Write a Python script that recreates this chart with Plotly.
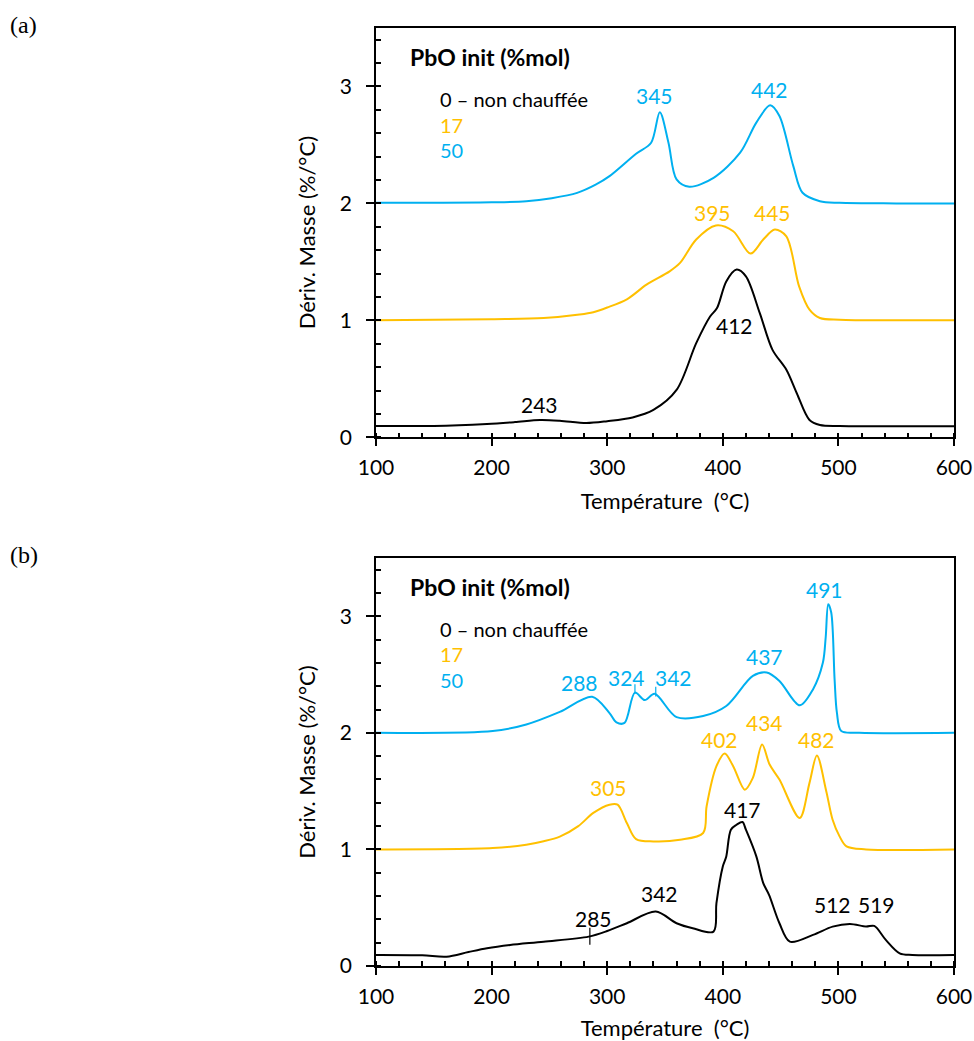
import plotly.graph_objects as go
import numpy as np

# ---------------- data ----------------
# Panel (a)
a0_T = [100, 150, 196, 220, 242, 259, 282, 300, 322, 340, 360, 377, 389, 395, 403, 412, 420, 432, 443, 455, 464, 475, 484, 501, 550, 600]
a0_v = [0.097, 0.097, 0.114, 0.13, 0.148, 0.142, 0.122, 0.138, 0.17, 0.234, 0.405, 0.805, 1.033, 1.105, 1.333, 1.434, 1.376, 1.062, 0.748, 0.577, 0.377, 0.148, 0.105, 0.097, 0.095, 0.095]

a17_T = [100, 200, 245, 276, 288, 300, 317, 334, 354, 363, 377, 394, 409, 424, 435, 445, 455, 466, 475, 484, 501, 550, 600]
a17_v = [1.0, 1.01, 1.02, 1.05, 1.07, 1.11, 1.18, 1.305, 1.419, 1.491, 1.691, 1.811, 1.762, 1.571, 1.691, 1.776, 1.719, 1.29, 1.091, 1.02, 1.005, 1.0, 1.0]

a50_T = [100, 200, 230, 252, 274, 290, 302, 325, 338, 345.5, 353, 360, 371, 392, 415, 429, 441, 449, 461, 469, 484, 501, 550, 600]
a50_v = [2.005, 2.01, 2.019, 2.045, 2.09, 2.16, 2.233, 2.425, 2.519, 2.78, 2.519, 2.205, 2.142, 2.219, 2.434, 2.691, 2.839, 2.747, 2.319, 2.091, 2.019, 2.005, 2.0, 2.0]

# Panel (b)
b0_T = [100, 140, 161, 180, 196, 216, 245, 284, 300, 317, 342, 360, 374, 392, 394.5, 400, 403, 407, 412, 417, 420, 429, 435, 440, 449, 458, 478, 495, 510, 524, 531, 541, 553, 564, 600]
b0_v = [0.095, 0.092, 0.08, 0.12, 0.152, 0.18, 0.209, 0.252, 0.3, 0.367, 0.467, 0.367, 0.324, 0.295, 0.539, 0.854, 0.94, 1.169, 1.212, 1.235, 1.169, 0.94, 0.711, 0.61, 0.367, 0.209, 0.267, 0.338, 0.361, 0.338, 0.344, 0.224, 0.109, 0.095, 0.095]

b17_T = [100, 201, 230, 245, 259, 275, 288, 302, 309, 317, 325, 340, 363, 383, 386, 394.5, 401.6, 409, 419, 426, 434, 440.5, 449, 466.5, 475, 481.4, 489.5, 495, 501, 507, 524, 600]
b17_v = [1.0, 1.012, 1.04, 1.07, 1.11, 1.2, 1.313, 1.384, 1.384, 1.227, 1.089, 1.069, 1.083, 1.141, 1.37, 1.714, 1.823, 1.714, 1.513, 1.614, 1.9, 1.728, 1.599, 1.27, 1.571, 1.806, 1.5, 1.255, 1.112, 1.026, 1.0, 1.0]

b50_T = [100, 201, 230, 259, 287, 302, 308, 315, 324, 332.5, 341, 360, 383, 403, 426, 438, 449, 466.5, 478, 486.6, 489, 491.2, 493.8, 496.7, 498.7, 502.5, 518, 600]
b50_v = [2.001, 2.015, 2.072, 2.18, 2.31, 2.17, 2.09, 2.085, 2.345, 2.281, 2.335, 2.135, 2.144, 2.23, 2.488, 2.517, 2.445, 2.236, 2.373, 2.603, 2.818, 3.104, 3.033, 2.459, 2.173, 2.015, 2.001, 2.0]

# temperatures marked with a small tick on the curves (panel b)
b0_marks = [285]
b50_marks = [324, 342]

x_ticks = [100, 200, 300, 400, 500, 600]
y_ticks = [0, 1, 2, 3]

BLACK = "#000000"
GOLD = "#FFC000"
BLUE = "#00B0F0"
FONT = "Lato"

# body margin is set to 0 by the page script, so the figure fills the window
W, H = 974, 1041
L, R, T_, B = 376, W - 954, 28, H - 966
PW = W - L - R
PH = H - T_ - B

fig = go.Figure()

def add_line(T, v, color, xa, ya):
    fig.add_trace(go.Scatter(x=T, y=v, mode="lines", xaxis=xa, yaxis=ya,
                             line=dict(color=color, width=2, shape="spline", smoothing=0.9),
                             showlegend=False, hoverinfo="skip"))

add_line(a0_T, a0_v, BLACK, "x", "y")
add_line(a17_T, a17_v, GOLD, "x", "y")
add_line(a50_T, a50_v, BLUE, "x", "y")
add_line(b0_T, b0_v, BLACK, "x2", "y2")
add_line(b17_T, b17_v, GOLD, "x2", "y2")
add_line(b50_T, b50_v, BLUE, "x2", "y2")

# small tick marks on the curves
fig.add_trace(go.Scatter(x=b0_marks, y=list(np.interp(b0_marks, b0_T, b0_v)), mode="markers",
                         xaxis="x2", yaxis="y2", showlegend=False, hoverinfo="skip",
                         marker=dict(symbol="line-ns", size=12, line=dict(color=BLACK, width=1.2))))
fig.add_trace(go.Scatter(x=b50_marks, y=list(np.interp(b50_marks, b50_T, b50_v) + 0.03), mode="markers",
                         xaxis="x2", yaxis="y2", showlegend=False, hoverinfo="skip",
                         marker=dict(symbol="line-ns", size=7, line=dict(color=BLUE, width=1.2))))

def xaxis_cfg(anchor):
    return dict(range=[100, 600], tickvals=x_ticks, ticks="outside", ticklen=7, tickwidth=1.5,
                tickcolor=BLACK, showline=True, linecolor=BLACK, linewidth=1.5, mirror=True,
                showgrid=False, zeroline=False, anchor=anchor, automargin=False,
                ticklabeloverflow="allow",
                tickfont=dict(family=FONT, size=21, color=BLACK), ticklabelstandoff=4,
                minor=dict(dtick=20, ticks="inside", ticklen=5, tickwidth=1.5, tickcolor=BLACK, showgrid=False),
                title=dict(text="Température  (°C)", font=dict(family=FONT, size=22, color=BLACK), standoff=15))

def yaxis_cfg(anchor, domain):
    return dict(range=[0, 3.5], tickvals=y_ticks, ticks="outside", ticklen=8, tickwidth=1.5,
                tickcolor=BLACK, showline=True, linecolor=BLACK, linewidth=1.5, mirror=True,
                showgrid=False, zeroline=False, anchor=anchor, domain=domain, automargin=False,
                ticklabeloverflow="allow",
                tickfont=dict(family=FONT, size=21, color=BLACK), ticklabelstandoff=10,
                minor=dict(dtick=0.2, ticks="inside", ticklen=5, tickwidth=1.5, tickcolor=BLACK, showgrid=False),
                title=dict(text="Dériv. Masse (%/°C)", font=dict(family=FONT, size=22, color=BLACK), standoff=18))

ann = []
# peak labels: (text, T, value, color, axes)
peak_labels = [
    ("243", 241.7, 0.277, BLACK, "x", "y"),
    ("412", 410.3, 0.96, BLACK, "x", "y"),
    ("395", 391.5, 1.92, GOLD, "x", "y"),
    ("445", 443.4, 1.92, GOLD, "x", "y"),
    ("345", 341.1, 2.92, BLUE, "x", "y"),
    ("442", 440.5, 2.97, BLUE, "x", "y"),
    ("288", 276.3, 2.436, BLUE, "x2", "y2"),
    ("324", 316.7, 2.474, BLUE, "x2", "y2"),
    ("342", 357.0, 2.474, BLUE, "x2", "y2"),
    ("437", 436.2, 2.654, BLUE, "x2", "y2"),
    ("491", 488.1, 3.233, BLUE, "x2", "y2"),
    ("402", 397.3, 1.943, GOLD, "x2", "y2"),
    ("434", 436.2, 2.087, GOLD, "x2", "y2"),
    ("482", 480.9, 1.943, GOLD, "x2", "y2"),
    ("305", 300.8, 1.528, GOLD, "x2", "y2"),
    ("417", 417.0, 1.341, BLACK, "x2", "y2"),
    ("342", 345.5, 0.619, BLACK, "x2", "y2"),
    ("285", 287.8, 0.41, BLACK, "x2", "y2"),
    ("512", 495.3, 0.524, BLACK, "x2", "y2"),
    ("519", 532.8, 0.524, BLACK, "x2", "y2"),
]
for t, xx, yy, c, xa, ya in peak_labels:
    ann.append(dict(text=t, x=xx, y=yy, xref=xa, yref=ya, showarrow=False,
                    font=dict(family=FONT, size=21, color=c), xanchor="center", yanchor="middle"))

# legend-like text blocks
legend_rows = [("PbO init (%mol)", BLACK, 0.0554, 0.929, True, 23),
               ("0 – non chauffée", BLACK, 0.107, 0.826, False, 20),
               ("17", GOLD, 0.107, 0.764, False, 20),
               ("50", BLUE, 0.107, 0.702, False, 20)]
for ya in ["y", "y2"]:
    xa = "x" if ya == "y" else "x2"
    for t, c, xx, yy, bold, fs in legend_rows:
        ann.append(dict(text=("<b>%s</b>" % t) if bold else t, x=xx, y=yy,
                        xref=xa + " domain", yref=ya + " domain", showarrow=False,
                        font=dict(family=FONT, size=fs, color=c), xanchor="left", yanchor="middle"))

# panel letters (positions given in page pixels)
for letter, px, py in [("(a)", 8, 25), ("(b)", 8, 555)]:
    ann.append(dict(text=letter, x=(px - L) / PW, y=(H - B - py) / PH,
                    xref="paper", yref="paper", xanchor="left", yanchor="middle", showarrow=False,
                    font=dict(family="Liberation Serif", size=24, color=BLACK)))

ya_top = (966 - 437.3) / (966 - 28)
yb_top = (966 - 558) / (966 - 28)

fig.update_layout(
    width=W, height=H, autosize=False,
    margin=dict(l=L, r=R, t=T_, b=B, autoexpand=False),
    paper_bgcolor="white", plot_bgcolor="white",
    xaxis=xaxis_cfg("y"),
    yaxis=yaxis_cfg("x", [ya_top, 1.0]),
    xaxis2=xaxis_cfg("y2"),
    yaxis2=yaxis_cfg("x2", [0.0, yb_top]),
    annotations=ann,
    showlegend=False,
)

fig.write_html("out.html",
               config={"responsive": False, "displayModeBar": False},
               post_script="document.body.style.margin='0';document.body.style.overflow='hidden';")
